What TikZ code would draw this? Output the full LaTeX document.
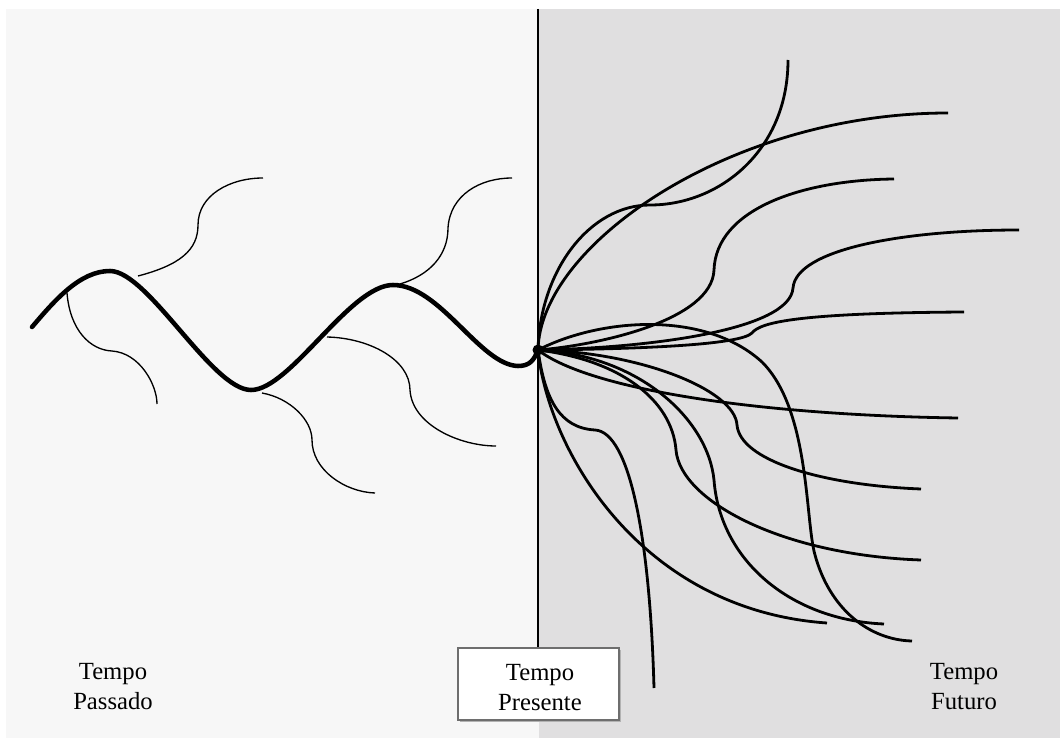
\documentclass[tikz,border=0pt]{standalone}
\usepackage{fontspec}
\setmainfont{Liberation Serif}
\begin{document}
\begin{tikzpicture}[x=0.75pt,y=-0.75pt,
  mainwave/.style={line width=3.4pt, line cap=round, line join=round},
  branch/.style={line width=1pt},
  fut/.style={line width=2.1pt},
  lbl/.style={font=\fontsize{18.5}{22.5}\selectfont, inner sep=0pt, anchor=base}]
\useasboundingbox (0,0) rectangle (1060,738);
\fill[white] (0,0) rectangle (1060,738);
\fill[fill={rgb,255:red,247;green,247;blue,247}] (6,9) rectangle (539,738);
\fill[fill={rgb,255:red,224;green,223;blue,224}] (539,9) rectangle (1060,738);
\coordinate (hub) at (538,350);
% past: thin branches
\draw[branch] (138,276) .. controls (180,265) and (198,250) .. (198,225) .. controls (198,195) and (230,178) .. (263,178);
\draw[branch] (67,293) .. controls (70,330) and (90,350) .. (112,351) .. controls (140,353) and (157,385) .. (157,404);
\draw[branch] (262,393) .. controls (290,398) and (312,420) .. (312,440) .. controls (312,470) and (345,492) .. (375,493);
\draw[branch] (327,337) .. controls (370,338) and (410,360) .. (410,390) .. controls (412,425) and (460,446) .. (496,446);
\draw[branch] (400,284) .. controls (430,275) and (448,255) .. (448,228) .. controls (450,195) and (480,178) .. (512,178);
% past: main wave
\draw[mainwave] (32,327) .. controls (55,300) and (80,271) .. (110,271)
  .. controls (148,271) and (212,390) .. (251,390)
  .. controls (290,390) and (350,285) .. (393,285)
  .. controls (440,285) and (480,365) .. (518,366)
  .. controls (530,366) and (534,360) .. (hub);
% present line
\draw[line width=2.2pt] (538,9) -- (538,648);
% future curves
\draw[fut] (hub) .. controls (540,270) and (590,205) .. (650,205) .. controls (720,205) and (788,150) .. (788,60);
\draw[fut] (hub) .. controls (540,245) and (730,113) .. (948,113);
\draw[fut] (hub) .. controls (600,345) and (712,320) .. (714,270) .. controls (716,210) and (800,180) .. (894,179);
\draw[fut] (hub) .. controls (650,348) and (790,330) .. (793,288) .. controls (796,250) and (900,230) .. (1019,230);
\draw[fut] (hub) .. controls (640,349) and (740,345) .. (752,333) .. controls (760,322) and (800,313) .. (964,312);
\draw[fut] (hub) .. controls (600,318) and (705,310) .. (762,362) .. controls (810,410) and (805,520) .. (815,555) .. controls (830,610) and (870,640) .. (912,641);
\draw[fut] (hub) .. controls (590,390) and (760,415) .. (958,418);
\draw[fut] (hub) .. controls (640,352) and (735,390) .. (737,425) .. controls (740,460) and (820,485) .. (921,489);
\draw[fut] (hub) .. controls (620,360) and (672,400) .. (676,450) .. controls (680,500) and (780,555) .. (921,560);
\draw[fut] (hub) .. controls (640,355) and (708,420) .. (714,480) .. controls (720,560) and (790,620) .. (884,624);
\draw[fut] (hub) .. controls (548,450) and (640,610) .. (827,623);
\draw[fut] (hub) .. controls (545,400) and (560,428) .. (595,430) .. controls (630,432) and (650,540) .. (654,688);
\draw[line width=3.2pt] (hub) -- (578,351);
\fill (hub) circle (5.5);
% labels
\fill[black!30] (460,650) rectangle (621,722);
\node[draw={rgb,255:red,110;green,110;blue,110}, fill=white, line width=0.8pt, minimum width=161*0.75pt, minimum height=72*0.75pt, inner sep=0pt] (box) at (538.5,684) {};
\node[lbl] (p1) at (113,679) {Tempo};
\node[lbl] (p2) at (113,709) {Passado};
\node[lbl] (n1) at (540,680) {Tempo};
\node[lbl] (n2) at (540,710) {Presente};
\node[lbl] (f1) at (964,679) {Tempo};
\node[lbl] (f2) at (964,709) {Futuro};
\end{tikzpicture}
\end{document}
